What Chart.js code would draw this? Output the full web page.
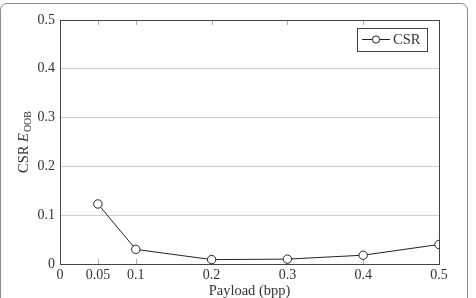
<!DOCTYPE html>
<html>
<head>
<meta charset="utf-8">
<script src="https://cdn.jsdelivr.net/npm/chart.js@4"></script>
<style>
    html, body { margin: 0; padding: 0; background: #fff; }
    #wrap { position: relative; width: 476px; height: 298px; overflow: hidden; }
    #frame { position: absolute; left: 0; top: 3px; width: 468px; height: 400px;
             border: 1px solid #8a8a8a; border-radius: 7px; box-sizing: border-box; }
    canvas { position: absolute; left: 0; top: 0; }
</style>
</head>
<body>
<div id="wrap">
    <div id="frame"></div>
    <canvas id="chart" width="476" height="298"></canvas>
</div>
<script>
const payload = [0.05, 0.1, 0.2, 0.3, 0.4, 0.5];
const csrValues = [0.123, 0.030, 0.009, 0.010, 0.018, 0.040];
const xTicks = [0, 0.05, 0.1, 0.2, 0.3, 0.4, 0.5];
const yTicks = [0, 0.1, 0.2, 0.3, 0.4, 0.5];

const FONT = '"Liberation Serif", "DejaVu Serif", serif';

// Box around the plot, inner tick marks, axis titles and legend (pgfplots look)
const decorPlugin = {
    id: 'decor',
    beforeDatasetsDraw(chart) {
        const ctx = chart.ctx;
        const a = chart.chartArea;
        const xs = chart.scales.x;
        ctx.save();
        ctx.strokeStyle = '#b0b0b0';
        ctx.lineWidth = 1;
        xTicks.forEach(v => {
            const px = Math.round(xs.getPixelForValue(v)) + 0.5;
            ctx.beginPath();
            ctx.moveTo(px, a.bottom);
            ctx.lineTo(px, a.bottom - 5);
            ctx.moveTo(px, a.top);
            ctx.lineTo(px, a.top + 5);
            ctx.stroke();
        });
        ctx.restore();
    },
    afterDraw(chart) {
        const ctx = chart.ctx;
        const a = chart.chartArea;
        ctx.save();
        ctx.strokeStyle = '#444';
        ctx.lineWidth = 1;
        ctx.strokeRect(Math.round(a.left) + 0.5, Math.round(a.top) + 0.5,
            Math.round(a.right - a.left), Math.round(a.bottom - a.top));

        // x title
        ctx.fillStyle = '#333';
        ctx.font = '14.5px ' + FONT;
        ctx.textAlign = 'center';
        ctx.textBaseline = 'middle';
        ctx.fillText('Payload (bpp)', (a.left + a.right) / 2, 291);

        // y title: CSR E_OOB
        ctx.translate(24, (a.top + a.bottom) / 2);
        ctx.rotate(-Math.PI / 2);
        ctx.textAlign = 'left';
        const p1 = 'CSR ';
        ctx.font = '14.5px ' + FONT;
        const w1 = ctx.measureText(p1).width;
        ctx.font = 'italic 14.5px ' + FONT;
        const w2 = ctx.measureText('E').width;
        ctx.font = '10px ' + FONT;
        const w3 = ctx.measureText('OOB').width;
        let x0 = -(w1 + w2 + w3 + 1) / 2;
        ctx.font = '14.5px ' + FONT;
        ctx.fillText(p1, x0, 0);
        ctx.font = 'italic 14.5px ' + FONT;
        ctx.fillText('E', x0 + w1, 0);
        ctx.font = '10px ' + FONT;
        ctx.fillText('OOB', x0 + w1 + w2 + 1, 4);
        ctx.restore();

        // legend
        const ds = chart.data.datasets[0];
        ctx.save();
        ctx.fillStyle = '#fff';
        ctx.strokeStyle = '#444';
        ctx.fillRect(357, 28, 70, 23);
        ctx.strokeRect(357.5, 28.5, 70, 23);
        ctx.beginPath();
        ctx.moveTo(362, 39.5);
        ctx.lineTo(390, 39.5);
        ctx.strokeStyle = '#222';
        ctx.stroke();
        ctx.beginPath();
        ctx.arc(376, 39.5, 3.6, 0, Math.PI * 2);
        ctx.fillStyle = '#fff';
        ctx.fill();
        ctx.stroke();
        ctx.fillStyle = '#333';
        ctx.font = '14.5px ' + FONT;
        ctx.textAlign = 'left';
        ctx.textBaseline = 'middle';
        ctx.fillText(ds.label, 393, 40);
        ctx.restore();
    }
};

new Chart(document.getElementById('chart'), {
    type: 'line',
    data: {
        datasets: [{
            label: 'CSR',
            data: payload.map((x, i) => ({ x: x, y: csrValues[i] })),
            borderColor: '#222',
            borderWidth: 1,
            pointBackgroundColor: '#fff',
            pointBorderColor: '#222',
            pointBorderWidth: 1,
            pointRadius: 4.2,
            tension: 0
        }]
    },
    options: {
        responsive: false,
        animation: false,
        layout: { padding: { left: 0, right: 37, top: 20, bottom: 0 } },
        plugins: { legend: { display: false }, tooltip: { enabled: false } },
        scales: {
            x: {
                type: 'linear',
                min: 0,
                max: 0.5,
                afterBuildTicks: s => { s.ticks = xTicks.map(v => ({ value: v })); },
                afterFit: s => { s.height = 34; },
                grid: { display: false, drawTicks: false },
                border: { display: false },
                ticks: {
                    padding: 3,
                    color: '#333',
                    font: { family: FONT, size: 14 },
                    callback: v => String(v)
                }
            },
            y: {
                min: 0,
                max: 0.5,
                afterBuildTicks: s => { s.ticks = yTicks.map(v => ({ value: v })); },
                afterFit: s => { s.width = 60; },
                grid: { color: '#cfcfcf', drawTicks: false },
                border: { display: false },
                ticks: {
                    padding: 5,
                    color: '#333',
                    font: { family: FONT, size: 14 },
                    callback: v => String(v)
                }
            }
        }
    },
    plugins: [decorPlugin]
});
</script>
</body>
</html>
